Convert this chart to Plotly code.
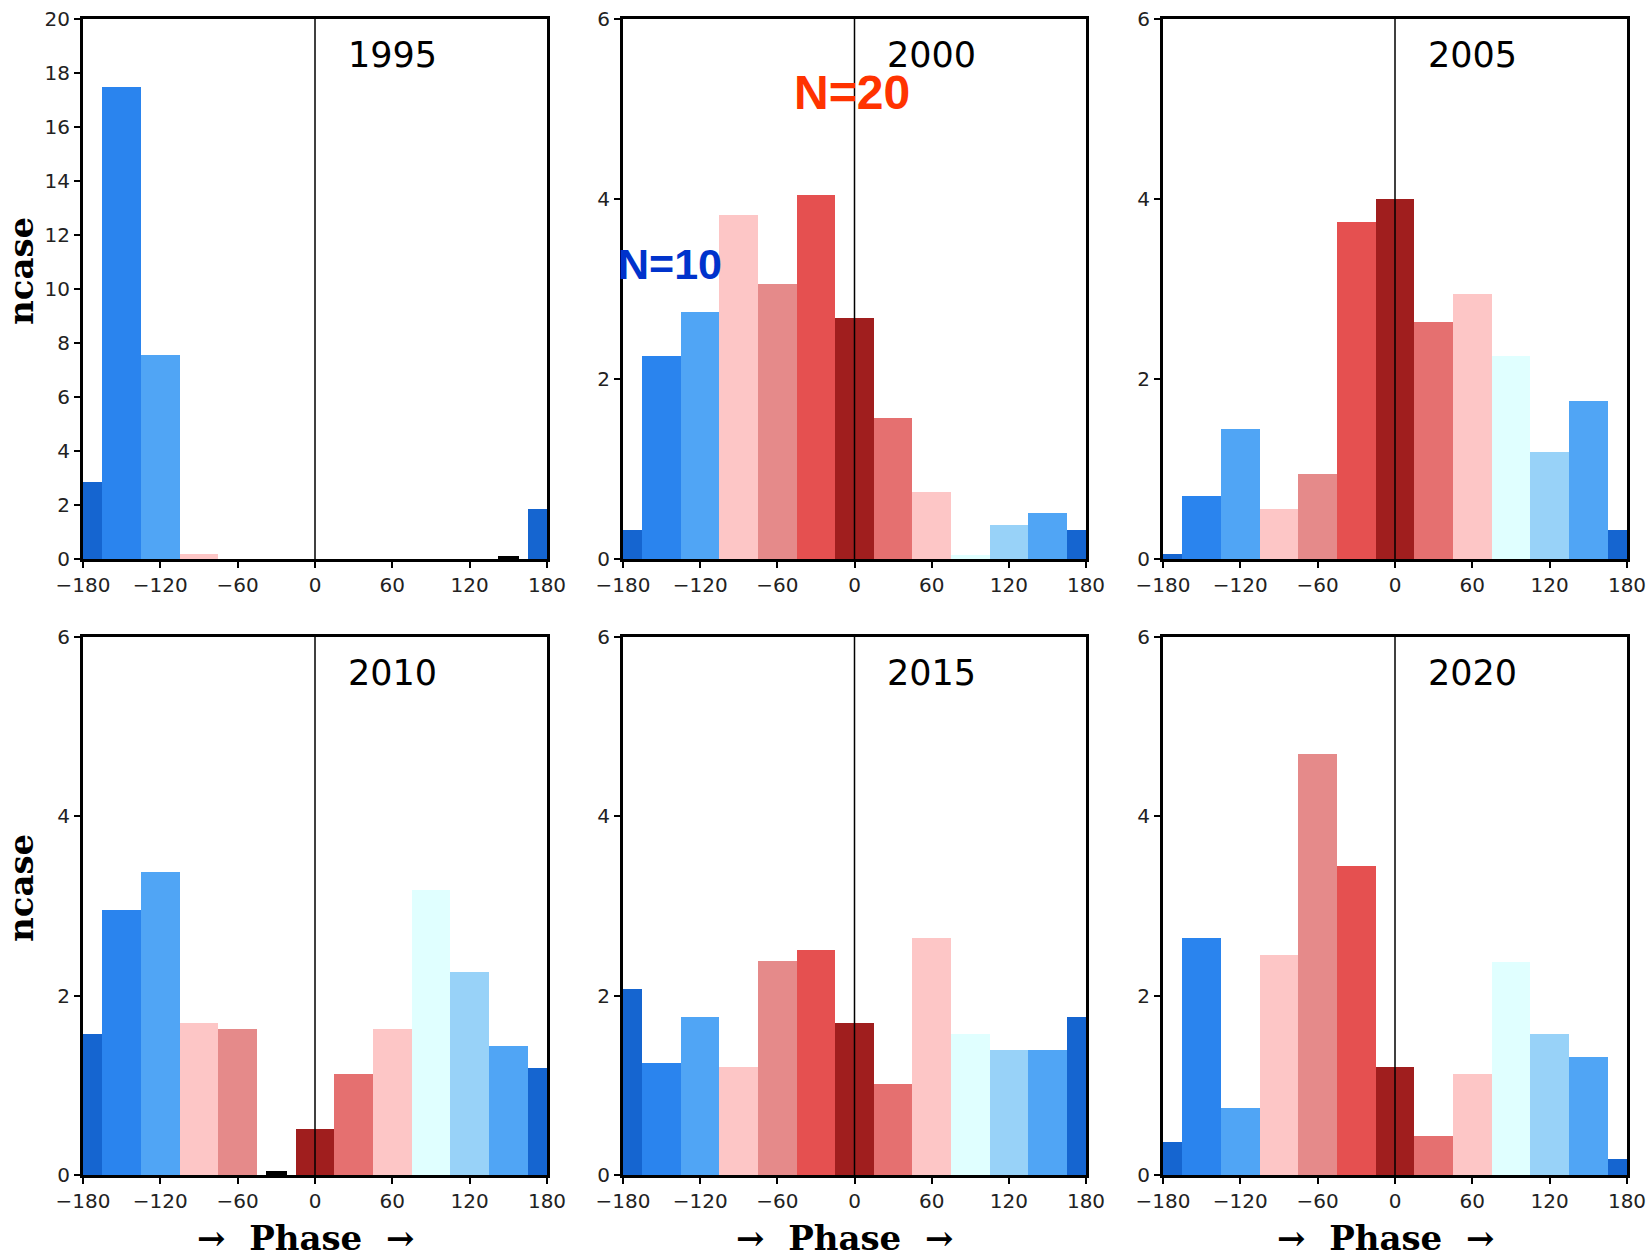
import plotly.graph_objects as go

# ---------------- data ----------------
phase_bins = [-180, -150, -120, -90, -60, -30, 0, 30, 60, 90, 120, 150, 180]
xtick_vals = [-180, -120, -60, 0, 60, 120, 180]

years = ["1995", "2000", "2005", "2010", "2015", "2020"]
ncase_1995 = [2.85, 17.5, 7.57, 0.17, 0, 0, 0, 0, 0, 0, 0, 0.1, 1.87]
ncase_2000 = [0.32, 2.26, 2.75, 3.82, 3.06, 4.05, 2.68, 1.57, 0.75, 0.05, 0.375, 0.51, 0.32]
ncase_2005 = [0.06, 0.70, 1.44, 0.56, 0.94, 3.74, 4.0, 2.63, 2.94, 2.26, 1.19, 1.76, 0.32]
ncase_2010 = [1.57, 2.95, 3.375, 1.69, 1.63, 0.04, 0.51, 1.125, 1.63, 3.18, 2.26, 1.44, 1.195]
ncase_2015 = [2.07, 1.25, 1.76, 1.2, 2.39, 2.51, 1.69, 1.01, 2.64, 1.57, 1.39, 1.39, 1.76]
ncase_2020 = [0.37, 2.64, 0.75, 2.45, 4.70, 3.445, 1.2, 0.44, 1.125, 2.38, 1.57, 1.32, 0.18]
series = [ncase_1995, ncase_2000, ncase_2005, ncase_2010, ncase_2015, ncase_2020]
ymax = [20, 6, 6, 6, 6, 6]

# tiny marks drawn in black in the original
black_marks = {"1995": [150], "2010": [-30]}

# ---------------- style ----------------
bin_colors = ["#1565D0", "#2A84EE", "#50A5F5", "#FDC6C6", "#E58A8A", "#E55050",
              "#A01E1E", "#E57070", "#FDC6C6", "#E0FFFF", "#98D2F8", "#50A5F5", "#1565D0"]

W, H = 1648, 1258
col_px = [(83, 547), (623, 1086), (1163, 1627)]
row_px = [(19, 559), (637, 1175)]

fig = go.Figure()
layout = dict(width=W, height=H, margin=dict(l=0, r=0, t=0, b=0, autoexpand=False),
              paper_bgcolor="white", plot_bgcolor="white", showlegend=False,
              bargap=0, shapes=[], annotations=[])

tickfont = dict(family="DejaVu Sans", size=20, color="#222222")

for i, (yr, vals) in enumerate(zip(years, series)):
    r, c = divmod(i, 3)
    k = "" if i == 0 else str(i + 1)
    xa, ya = "x" + k, "y" + k
    x0, x1 = col_px[c]
    y0, y1 = row_px[r]
    colors = []
    widths = []
    for b, col in zip(phase_bins, bin_colors):
        if b in black_marks.get(yr, []):
            colors.append("black")
            widths.append(16)
        else:
            colors.append(col)
            widths.append(30)
    fig.add_trace(go.Bar(x=phase_bins, y=vals, width=widths,
                         marker=dict(color=colors, line=dict(width=0)),
                         xaxis=xa, yaxis=ya, hoverinfo="x+y"))
    layout["xaxis" + k] = dict(domain=[x0 / W, x1 / W], anchor=ya, range=[-180, 180],
                               tickvals=xtick_vals, ticks="outside", ticklen=6, tickwidth=1.5,
                               tickcolor="black", showline=True, linewidth=3, linecolor="black",
                               mirror=True, showgrid=False, zeroline=False, tickfont=tickfont,
                               automargin=False)
    layout["yaxis" + k] = dict(domain=[1 - y1 / H, 1 - y0 / H], anchor=xa, range=[0, ymax[i]],
                               dtick=2, ticks="outside", ticklen=6, tickwidth=1.5,
                               tickcolor="black", showline=True, linewidth=3, linecolor="black",
                               mirror=True, showgrid=False, zeroline=False, tickfont=tickfont,
                               automargin=False)
    layout["shapes"].append(dict(type="line", xref=xa, yref=ya + " domain", x0=0, x1=0,
                                 y0=0, y1=1, line=dict(color="black", width=1.5), layer="above"))
    layout["annotations"].append(dict(text=yr, xref=xa, yref=ya + " domain", x=60, y=0.933,
                                      showarrow=False, xanchor="center", yanchor="middle",
                                      font=dict(family="DejaVu Sans", size=35, color="black")))
    if r == 1:
        layout["annotations"].append(dict(text="\u2192  Phase  \u2192", xref="paper", yref="paper",
                                          x=((x0 + x1) / 2 - 10) / W, y=1 - 1238 / H,
                                          showarrow=False, xanchor="center", yanchor="middle",
                                          font=dict(family="DejaVu Serif", size=34, color="black",
                                                    weight="bold")))

for yc in [271, 888]:
    layout["annotations"].append(dict(text="ncase", xref="paper", yref="paper",
                                      x=21 / W, y=1 - yc / H, textangle=-90, showarrow=False,
                                      xanchor="center", yanchor="middle",
                                      font=dict(family="DejaVu Serif", size=34, color="black",
                                                weight="bold")))

layout["annotations"].append(dict(text="<b>N=20</b>", xref="paper", yref="paper",
                                  x=852 / W, y=1 - 92 / H, showarrow=False,
                                  xanchor="center", yanchor="middle",
                                  font=dict(family="Liberation Sans", size=48, color="#FF3300")))
layout["annotations"].append(dict(text="<b>N=10</b>", xref="paper", yref="paper",
                                  x=670 / W, y=1 - 264 / H, showarrow=False,
                                  xanchor="center", yanchor="middle",
                                  font=dict(family="Liberation Sans", size=43, color="#0033CC")))

fig.update_layout(**layout)
fig.write_html("out.html", config={"displayModeBar": False},
               post_script="document.body.style.margin='0';document.body.style.padding='0';"
                           "document.body.style.overflow='hidden';")
